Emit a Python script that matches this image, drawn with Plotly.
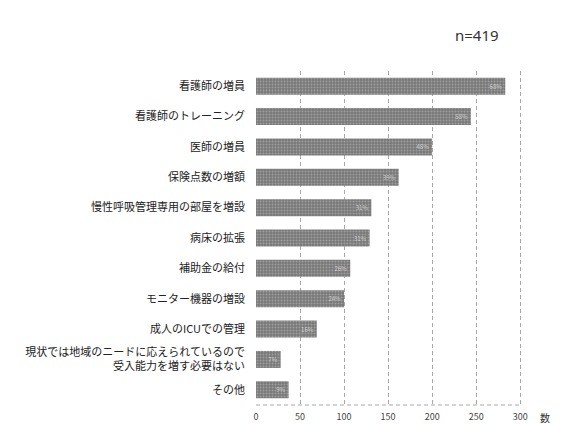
import plotly.graph_objects as go

categories = [
    "看護師の増員",
    "看護師のトレーニング",
    "医師の増員",
    "保険点数の増額",
    "慢性呼吸管理専用の部屋を増設",
    "病床の拡張",
    "補助金の給付",
    "モニター機器の増設",
    "成人のICUでの管理",
    "現状では地域のニードに応えられているので<br>受入能力を増す必要はない",
    "その他",
]
values = [283, 244, 200, 162, 131, 129, 107, 100, 69, 28, 37]
n_total = 419
pct_labels = [f"{round(v / n_total * 100)}%" for v in values]
x_ticks = [0, 50, 100, 150, 200, 250, 300]

fig = go.Figure()
fig.add_trace(go.Bar(
    y=categories,
    x=values,
    orientation="h",
    width=0.56,
    text=pct_labels,
    textposition="inside",
    insidetextanchor="end",
    textfont=dict(size=6, color="#cfcfcf", family="Noto Sans CJK JP"),
    marker=dict(
        color="#787878",
        line=dict(width=0),
        pattern=dict(shape=".", fgcolor="#c4c4c4", size=3, solidity=0.35),
    ),
    showlegend=False,
))

# page body has an 8px default margin, so the figure is sized to fit the window
fig.update_layout(
    width=563,
    height=417,
    margin=dict(l=248, r=49, t=63, b=20),
    paper_bgcolor="white",
    plot_bgcolor="white",
    font=dict(family="Noto Sans CJK JP", color="#222222", size=11),
    xaxis=dict(
        range=[0, 302],
        tickvals=x_ticks,
        tickfont=dict(size=9, color="#444444"),
        ticklabelstandoff=5,
        showgrid=True,
        gridcolor="#a8a8a8",
        griddash="4px,3px",
        gridwidth=1,
        zeroline=False,
        showline=False,
        ticks="",
        automargin=False,
        fixedrange=True,
    ),
    yaxis=dict(
        autorange="reversed",
        tickfont=dict(size=11, color="#222222"),
        showgrid=False,
        zeroline=False,
        showline=False,
        ticks="",
        ticklabelstandoff=10,
        automargin=False,
    ),
    shapes=[
        dict(type="line", xref="paper", yref="paper", x0=0, x1=0.993, y0=0, y1=0,
             line=dict(color="#a8a8a8", width=1, dash="4px,3px")),
    ],
    annotations=[
        dict(text="n=419", xref="paper", yref="paper", x=0.74, y=1.0, yshift=36,
             xanchor="left", yanchor="middle", showarrow=False,
             font=dict(size=15, color="#333333", family="Noto Sans")),
        dict(text="数", xref="paper", yref="paper", x=1.0, y=0, xshift=23, yshift=-12,
             xanchor="center", yanchor="middle", showarrow=False,
             font=dict(size=10, color="#333333")),
    ],
    bargap=0.44,
)

fig.write_html("out.html")
